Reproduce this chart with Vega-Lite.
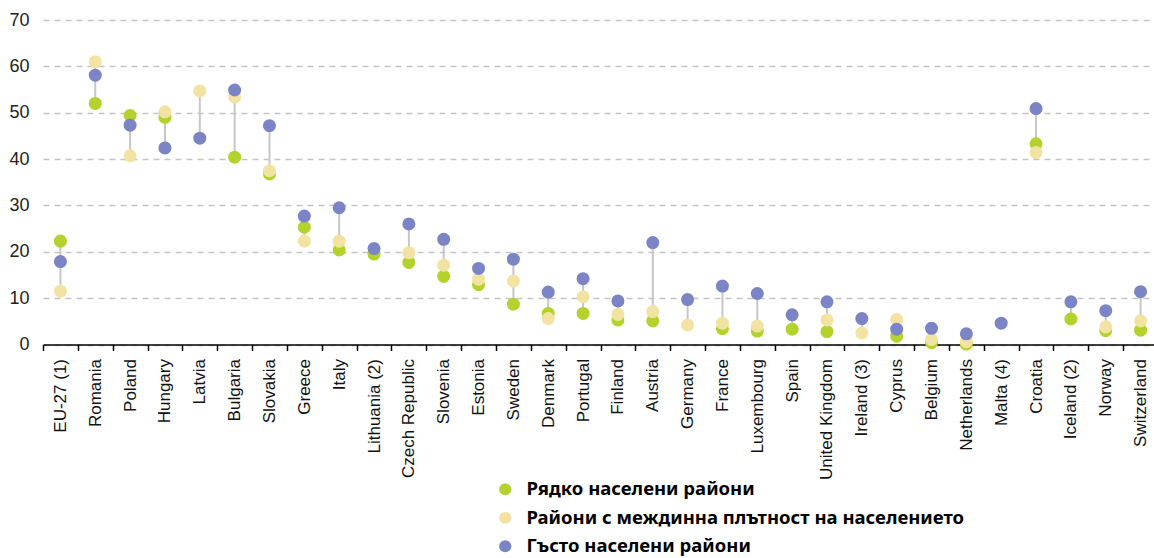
{
  "$schema": "https://vega.github.io/schema/vega-lite/v6.json",
  "autosize": {"type": "none"},
  "padding": {"left": 43, "top": 20, "right": 0, "bottom": 214},
  "width": 1115,
  "height": 324.5,
  "background": "white",
  "config": {"view": {"stroke": null}},
  "data": {"values": [
    {"country": "EU-27 (1)", "series": "Рядко населени райони", "value": 22.3},
    {"country": "Romania", "series": "Рядко населени райони", "value": 52},
    {"country": "Poland", "series": "Рядко населени райони", "value": 49.4},
    {"country": "Hungary", "series": "Рядко населени райони", "value": 49},
    {"country": "Bulgaria", "series": "Рядко населени райони", "value": 40.4},
    {"country": "Slovakia", "series": "Рядко населени райони", "value": 36.8},
    {"country": "Greece", "series": "Рядко населени райони", "value": 25.3},
    {"country": "Italy", "series": "Рядко населени райони", "value": 20.4},
    {"country": "Lithuania (2)", "series": "Рядко населени райони", "value": 19.5},
    {"country": "Czech Republic", "series": "Рядко населени райони", "value": 17.7},
    {"country": "Slovenia", "series": "Рядко населени райони", "value": 14.7},
    {"country": "Estonia", "series": "Рядко населени райони", "value": 12.9},
    {"country": "Sweden", "series": "Рядко населени райони", "value": 8.7},
    {"country": "Denmark", "series": "Рядко населени райони", "value": 6.7},
    {"country": "Portugal", "series": "Рядко населени райони", "value": 6.7},
    {"country": "Finland", "series": "Рядко населени райони", "value": 5.3},
    {"country": "Austria", "series": "Рядко населени райони", "value": 5.1},
    {"country": "France", "series": "Рядко населени райони", "value": 3.4},
    {"country": "Luxembourg", "series": "Рядко населени райони", "value": 2.9},
    {"country": "Spain", "series": "Рядко населени райони", "value": 3.3},
    {"country": "United Kingdom", "series": "Рядко населени райони", "value": 2.8},
    {"country": "Cyprus", "series": "Рядко населени райони", "value": 1.8},
    {"country": "Belgium", "series": "Рядко населени райони", "value": 0.4},
    {"country": "Netherlands", "series": "Рядко населени райони", "value": 0.1},
    {"country": "Croatia", "series": "Рядко населени райони", "value": 43.3},
    {"country": "Iceland (2)", "series": "Рядко населени райони", "value": 5.5},
    {"country": "Norway", "series": "Рядко населени райони", "value": 3.0},
    {"country": "Switzerland", "series": "Рядко населени райони", "value": 3.1},

    {"country": "EU-27 (1)", "series": "Райони с междинна плътност на населението", "value": 11.5},
    {"country": "Romania", "series": "Райони с междинна плътност на населението", "value": 61},
    {"country": "Poland", "series": "Райони с междинна плътност на населението", "value": 40.7},
    {"country": "Hungary", "series": "Райони с междинна плътност на населението", "value": 50.2},
    {"country": "Latvia", "series": "Райони с междинна плътност на населението", "value": 54.7},
    {"country": "Bulgaria", "series": "Райони с междинна плътност на населението", "value": 53.4},
    {"country": "Slovakia", "series": "Райони с междинна плътност на населението", "value": 37.5},
    {"country": "Greece", "series": "Райони с междинна плътност на населението", "value": 22.3},
    {"country": "Italy", "series": "Райони с междинна плътност на населението", "value": 22.3},
    {"country": "Czech Republic", "series": "Райони с междинна плътност на населението", "value": 19.8},
    {"country": "Slovenia", "series": "Райони с междинна плътност на населението", "value": 17.1},
    {"country": "Estonia", "series": "Райони с междинна плътност на населението", "value": 14.1},
    {"country": "Sweden", "series": "Райони с междинна плътност на населението", "value": 13.7},
    {"country": "Denmark", "series": "Райони с междинна плътност на населението", "value": 5.6},
    {"country": "Portugal", "series": "Райони с междинна плътност на населението", "value": 10.3},
    {"country": "Finland", "series": "Райони с междинна плътност на населението", "value": 6.5},
    {"country": "Austria", "series": "Райони с междинна плътност на населението", "value": 7.1},
    {"country": "Germany", "series": "Райони с междинна плътност на населението", "value": 4.2},
    {"country": "France", "series": "Райони с междинна плътност на населението", "value": 4.6},
    {"country": "Luxembourg", "series": "Райони с междинна плътност на населението", "value": 4.0},
    {"country": "United Kingdom", "series": "Райони с междинна плътност на населението", "value": 5.3},
    {"country": "Ireland (3)", "series": "Райони с междинна плътност на населението", "value": 2.5},
    {"country": "Cyprus", "series": "Райони с междинна плътност на населението", "value": 5.4},
    {"country": "Belgium", "series": "Райони с междинна плътност на населението", "value": 1.1},
    {"country": "Netherlands", "series": "Райони с междинна плътност на населението", "value": 0.6},
    {"country": "Croatia", "series": "Райони с междинна плътност на населението", "value": 41.4},
    {"country": "Norway", "series": "Райони с междинна плътност на населението", "value": 3.8},
    {"country": "Switzerland", "series": "Райони с междинна плътност на населението", "value": 5.1},

    {"country": "EU-27 (1)", "series": "Гъсто населени райони", "value": 17.9},
    {"country": "Romania", "series": "Гъсто населени райони", "value": 58.1},
    {"country": "Poland", "series": "Гъсто населени райони", "value": 47.3},
    {"country": "Hungary", "series": "Гъсто населени райони", "value": 42.4},
    {"country": "Latvia", "series": "Гъсто населени райони", "value": 44.5},
    {"country": "Bulgaria", "series": "Гъсто населени райони", "value": 54.9},
    {"country": "Slovakia", "series": "Гъсто населени райони", "value": 47.2},
    {"country": "Greece", "series": "Гъсто населени райони", "value": 27.7},
    {"country": "Italy", "series": "Гъсто населени райони", "value": 29.5},
    {"country": "Lithuania (2)", "series": "Гъсто населени райони", "value": 20.7},
    {"country": "Czech Republic", "series": "Гъсто населени райони", "value": 26.0},
    {"country": "Slovenia", "series": "Гъсто населени райони", "value": 22.7},
    {"country": "Estonia", "series": "Гъсто населени райони", "value": 16.4},
    {"country": "Sweden", "series": "Гъсто населени райони", "value": 18.4},
    {"country": "Denmark", "series": "Гъсто населени райони", "value": 11.3},
    {"country": "Portugal", "series": "Гъсто населени райони", "value": 14.2},
    {"country": "Finland", "series": "Гъсто населени райони", "value": 9.4},
    {"country": "Austria", "series": "Гъсто населени райони", "value": 22.0},
    {"country": "Germany", "series": "Гъсто населени райони", "value": 9.7},
    {"country": "France", "series": "Гъсто населени райони", "value": 12.6},
    {"country": "Luxembourg", "series": "Гъсто населени райони", "value": 11.0},
    {"country": "Spain", "series": "Гъсто населени райони", "value": 6.4},
    {"country": "United Kingdom", "series": "Гъсто населени райони", "value": 9.2},
    {"country": "Ireland (3)", "series": "Гъсто населени райони", "value": 5.6},
    {"country": "Cyprus", "series": "Гъсто населени райони", "value": 3.3},
    {"country": "Belgium", "series": "Гъсто населени райони", "value": 3.5},
    {"country": "Netherlands", "series": "Гъсто населени райони", "value": 2.3},
    {"country": "Malta (4)", "series": "Гъсто населени райони", "value": 4.6},
    {"country": "Croatia", "series": "Гъсто населени райони", "value": 50.9},
    {"country": "Iceland (2)", "series": "Гъсто населени райони", "value": 9.2},
    {"country": "Norway", "series": "Гъсто населени райони", "value": 7.3},
    {"country": "Switzerland", "series": "Гъсто населени райони", "value": 11.4}
  ]},
  "encoding": {
    "x": {
      "field": "country", "type": "nominal",
      "sort": ["EU-27 (1)", "Romania", "Poland", "Hungary", "Latvia", "Bulgaria", "Slovakia", "Greece", "Italy", "Lithuania (2)", "Czech Republic", "Slovenia", "Estonia", "Sweden", "Denmark", "Portugal", "Finland", "Austria", "Germany", "France", "Luxembourg", "Spain", "United Kingdom", "Ireland (3)", "Cyprus", "Belgium", "Netherlands", "Malta (4)", "Croatia", "Iceland (2)", "Norway", "Switzerland"],
      "scale": {"paddingInner": 0, "paddingOuter": 0},
      "axis": {
        "title": null,
        "labelAngle": -90,
        "labelAlign": "right",
        "labelBaseline": "middle",
        "labelFont": "Liberation Sans",
        "labelFontSize": 17,
        "labelColor": "#111",
        "labelPadding": 8,
        "labelLimit": 200,
        "domainColor": "#000",
        "domainWidth": 1.5,
        "tickColor": "#000",
        "tickWidth": 1.5,
        "tickSize": 6,
        "tickBand": "extent",
        "grid": false
      }
    },
    "y": {
      "field": "value", "type": "quantitative",
      "scale": {"domain": [0, 70], "nice": false, "zero": true},
      "axis": {
        "title": null,
        "values": [0, 10, 20, 30, 40, 50, 60, 70],
        "domain": false,
        "ticks": false,
        "labelFont": "Liberation Sans",
        "labelFontSize": 18,
        "labelColor": "#222",
        "labelPadding": 14,
        "grid": true,
        "gridColor": "#c4c4c4",
        "gridDash": [6, 5],
        "gridWidth": 1.5
      }
    }
  },
  "layer": [
    {
      "mark": {"type": "rule", "color": "#c6c6c6", "strokeWidth": 2},
      "encoding": {
        "y": {"aggregate": "min", "field": "value", "type": "quantitative"},
        "y2": {"aggregate": "max", "field": "value"}
      }
    },
    {
      "mark": {"type": "point", "shape": "circle", "filled": true, "opacity": 1, "size": 170},
      "encoding": {
        "color": {
          "field": "series", "type": "nominal",
          "scale": {
            "domain": ["Рядко населени райони", "Райони с междинна плътност на населението", "Гъсто населени райони"],
            "range": ["#b4d22c", "#f3e3a2", "#7b85c6"]
          },
          "legend": {
            "title": null,
            "orient": "none",
            "legendX": 453,
            "legendY": 460,
            "direction": "vertical",
            "padding": 0,
            "symbolType": "circle",
            "symbolSize": 150,
            "symbolStrokeWidth": 0,
            "symbolOpacity": 1,
            "labelFont": "Noto Sans",
            "labelFontWeight": "bold",
            "labelFontSize": 18.5,
            "labelColor": "#000",
            "labelOffset": 12,
            "labelLimit": 600,
            "rowPadding": 9.5
          }
        }
      }
    }
  ]
}
